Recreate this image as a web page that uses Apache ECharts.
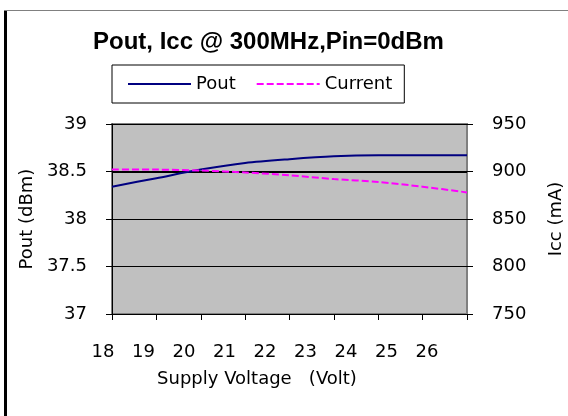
<!DOCTYPE html>
<html>
<head>
<meta charset="utf-8">
<script src="https://cdn.jsdelivr.net/npm/echarts@6/dist/echarts.min.js"></script>
<style>
  html, body { margin: 0; padding: 0; background: #fff; }
  #chart { width: 568px; height: 416px; position: relative; }
  /* frame edges of the pasted chart */
  #frameLeft { position: absolute; left: 4px; top: 10px; width: 3px; height: 406px; background: #000; }
  #frameTop { position: absolute; left: 4px; top: 10px; width: 564px; height: 1px; background: #808080; }
</style>
</head>
<body>
<div id="chart"></div>
<div id="frameLeft"></div>
<div id="frameTop"></div>
<script>
// supply voltage (V)
var voltage = [18, 19, 20, 21, 22, 23, 24, 25, 26];
// output power (dBm), left axis
var pout = [38.34, 38.43, 38.52, 38.59, 38.63, 38.66, 38.67, 38.67, 38.67];
// supply current (mA), right axis
var current = [902, 902, 901, 899, 896, 892, 889, 884, 878];

var titleFont = 'Liberation Sans, Arial, sans-serif';
var font = 'DejaVu Sans, sans-serif';

var poutData = voltage.map(function (v, i) { return [v, pout[i]]; });
var currentData = voltage.map(function (v, i) { return [v, current[i]]; });

var chart = echarts.init(document.getElementById('chart'));
var option = {
    animation: false,
    title: {
        text: 'Pout, Icc @ 300MHz,Pin=0dBm',
        left: 88,
        top: 25,
        textStyle: { fontFamily: titleFont, fontSize: 24, fontWeight: 'bold', color: '#000' }
    },
    legend: {
        left: 112,
        top: 65,
        height: 40,
        padding: [10, 12, 10, 15],
        borderColor: '#000',
        borderWidth: 1,
        itemWidth: 63,
        itemHeight: 12,
        itemGap: 20,
        itemStyle: { opacity: 0 },
        textStyle: { fontFamily: font, fontSize: 18, color: '#000' },
        data: ['Pout', 'Current']
    },
    grid: [{
        left: 112, right: 101, top: 124, bottom: 102,
        outerBoundsMode: 'none',
        show: true,
        backgroundColor: '#C0C0C0',
        borderColor: '#808080',
        borderWidth: 2
    }, {
        // carries the voltage labels, which sit a little left of the ticks
        left: 103, right: 141, top: 124, bottom: 102,
        outerBoundsMode: 'none',
        show: false
    }],
    xAxis: [{
        type: 'value', gridIndex: 0,
        min: 18, max: 26, interval: 1,
        axisLine: { show: true, lineStyle: { color: '#000', width: 1 } },
        axisTick: { show: true, length: 6, lineStyle: { color: '#000' } },
        axisLabel: { show: false },
        splitLine: { show: false }
    }, {
        type: 'value', gridIndex: 1,
        min: 18, max: 26, interval: 1,
        axisLine: { show: false },
        axisTick: { show: false },
        splitLine: { show: false },
        axisLabel: { margin: 29, fontFamily: font, fontSize: 18, color: '#000' },
        name: 'Supply Voltage   (Volt)',
        nameLocation: 'middle',
        nameGap: 56,
        nameTextStyle: { fontFamily: font, fontSize: 18, color: '#000', padding: [0, 16, 0, 0] }
    }],
    yAxis: [{
        type: 'value', gridIndex: 0,
        min: 37, max: 39, interval: 0.5,
        position: 'left',
        axisLine: { show: true, lineStyle: { color: '#000', width: 1 } },
        axisTick: { show: true, length: 6, lineStyle: { color: '#000' } },
        axisLabel: { margin: 25, fontFamily: font, fontSize: 18, color: '#000' },
        splitLine: { show: true, lineStyle: { color: '#000', width: 1 } },
        name: 'Pout (dBm)',
        nameLocation: 'middle',
        nameGap: 68,
        nameTextStyle: { fontFamily: font, fontSize: 18, color: '#000' }
    }, {
        type: 'value', gridIndex: 0,
        min: 750, max: 950, interval: 50,
        position: 'right',
        axisLine: { show: false },
        axisTick: { show: true, length: 6, lineStyle: { color: '#000' } },
        axisLabel: { margin: 25, fontFamily: font, fontSize: 18, color: '#000' },
        splitLine: { show: false },
        name: 'Icc (mA)',
        nameLocation: 'middle',
        nameGap: 80,
        nameRotate: 90,
        nameTextStyle: { fontFamily: font, fontSize: 18, color: '#000' }
    }, {
        type: 'value', gridIndex: 1, show: false
    }],
    series: [{
        name: 'Pout',
        type: 'line',
        xAxisIndex: 0,
        yAxisIndex: 0,
        smooth: 0.3,
        symbol: 'none',
        lineStyle: { color: '#000080', width: 2 },
        itemStyle: { color: '#000080' },
        // the 38.5 gridline is drawn heavier in the original
        markLine: {
            z: 1,
            silent: true,
            symbol: 'none',
            label: { show: false },
            lineStyle: { color: '#000', width: 2, type: 'solid' },
            data: [{ yAxis: 38.5 }]
        },
        z: 2,
        data: poutData
    }, {
        name: 'Current',
        type: 'line',
        xAxisIndex: 0,
        yAxisIndex: 1,
        smooth: 0.3,
        symbol: 'none',
        lineStyle: { color: '#FF00FF', width: 2, type: [7, 3] },
        itemStyle: { color: '#FF00FF' },
        z: 10,
        data: currentData
    }]
};
chart.setOption(option);
</script>
</body>
</html>
